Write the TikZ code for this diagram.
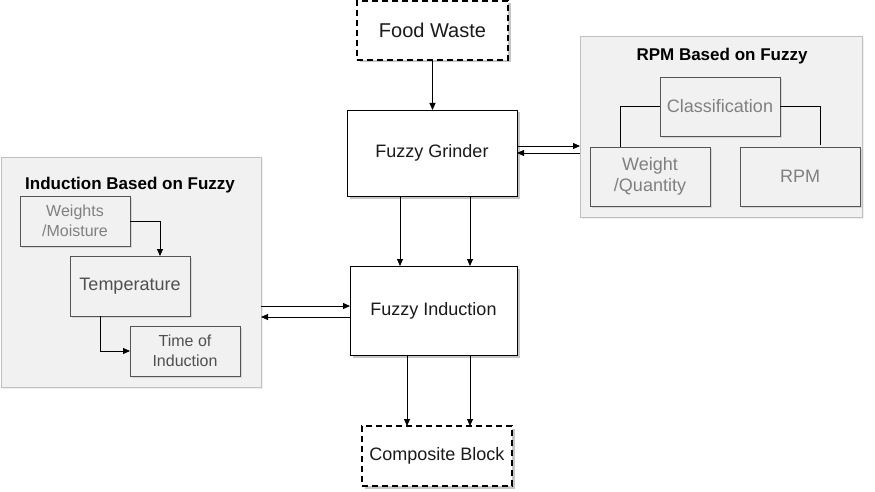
\documentclass[tikz,border=0pt]{standalone}
\usepackage{fontspec}
\setmainfont{Liberation Sans}
\usetikzlibrary{arrows.meta,shadows,calc}
\definecolor{txt}{HTML}{1A1A1A}
\definecolor{subtxt}{HTML}{808080}
\definecolor{temptxt}{HTML}{505050}
\definecolor{contfill}{HTML}{F1F1F1}
\definecolor{contdraw}{HTML}{C0C0C0}
\definecolor{subdraw}{HTML}{555555}
\tikzset{
  shad/.style={drop shadow={shadow xshift=2.5pt,shadow yshift=-2.5pt,fill=black!28,opacity=0.8}},
  mainbox/.style={draw=black,line width=0.9pt,fill=white,inner sep=0pt,outer sep=0pt,
    text=txt,font=\fontsize{18}{21}\selectfont,align=center,shad},
  dashbox/.style={mainbox,dash pattern=on 6pt off 4pt,line width=1.6pt},
  container/.style={draw=contdraw,line width=1pt,fill=contfill,inner sep=0pt,outer sep=0pt,
    drop shadow={shadow xshift=2pt,shadow yshift=-2pt,fill=black!12}},
  subbox/.style={draw=subdraw,line width=0.8pt,fill=contfill,inner sep=0pt,outer sep=0pt,
    text=subtxt,align=center,font=\fontsize{18}{21}\selectfont,
    drop shadow={shadow xshift=2pt,shadow yshift=-2pt,fill=black!25}},
  smalltext/.style={font=\fontsize{16}{20}\selectfont},
  title/.style={font=\bfseries\fontsize{17}{20}\selectfont,text=black,inner sep=0pt},
  arr/.style={-{Triangle[length=7pt,width=6pt]},line width=0.9pt,black},
  conn/.style={line width=0.9pt,black},
}
\begin{document}
\begin{tikzpicture}[x=1pt,y=-1pt]
\useasboundingbox (0,0) rectangle (875,492);
% containers
\node[container,minimum width=282pt,minimum height=180pt] (rpmc) at (721,127) {};
\node[container,minimum width=260pt,minimum height=230pt] (indc) at (131,272) {};
\node[title] (rpmtitle) at (722,56) {RPM Based on Fuzzy};
\node[title] (indtitle) at (130,185) {Induction Based on Fuzzy};
% main boxes
\node[dashbox,minimum width=151pt,minimum height=59pt,font=\fontsize{20}{24}\selectfont] (food) at (432.5,30.5) {Food Waste};
\node[mainbox,minimum width=170pt,minimum height=86pt] (grinder) at (432,153) {\raisebox{-2pt}{Fuzzy Grinder}};
\node[mainbox,minimum width=167pt,minimum height=89pt] (induction) at (433.5,310.5) {\raisebox{-2pt}{Fuzzy Induction}};
\node[dashbox,minimum width=150pt,minimum height=60pt] (comp) at (437,456) {\raisebox{-1pt}{Composite Block}};
% RPM sub boxes
\node[subbox,minimum width=120pt,minimum height=59pt] (class) at (720,106.5) {Classification};
\node[subbox,minimum width=120pt,minimum height=59pt] (wq) at (650,176.5) {Weight\\/Quantity};
\node[subbox,minimum width=120pt,minimum height=59pt] (rpm) at (800,176.5) {RPM};
% induction sub boxes
\node[subbox,smalltext,minimum width=110pt,minimum height=50pt] (wm) at (75,221) {Weights\\/Moisture};
\node[subbox,text=temptxt,minimum width=120pt,minimum height=60pt] (temp) at (130,286) {Temperature};
\node[subbox,smalltext,text=temptxt,minimum width=110pt,minimum height=50pt] (toi) at (185,351) {Time of\\Induction};
% connectors
\draw[arr] (food.south) -- (food.south |- grinder.north);
\draw[arr] ([xshift=-32pt]grinder.south) -- ([xshift=-32pt]grinder.south |- induction.north);
\draw[arr] ([xshift=38pt]grinder.south) -- ([xshift=38pt]grinder.south |- induction.north);
\draw[arr] ([xshift=-26.5pt]induction.south) -- ([xshift=-26.5pt]induction.south |- comp.north);
\draw[arr] ([xshift=36.5pt]induction.south) -- ([xshift=36.5pt]induction.south |- comp.north);
\draw[arr] ([yshift=7pt]grinder.east) -- ([yshift=7pt]grinder.east -| rpmc.west);
\draw[arr] ([yshift=0pt]grinder.east -| rpmc.west) -- ([yshift=0pt]grinder.east);
\draw[arr] ([yshift=4.5pt]induction.west -| indc.east) -- ([yshift=4.5pt]induction.west);
\draw[arr] ([yshift=-6.5pt]induction.west) -- ([yshift=-6.5pt]induction.west -| indc.east);
\draw[conn] (class.west) -| ([xshift=-30pt]wq.north);
\draw[conn] (class.east) -| ([xshift=20pt,yshift=2pt]rpm.north);
\draw[arr] (wm.east) -| ([xshift=30pt]temp.north);
\draw[arr] ([xshift=-30pt]temp.south) |- (toi.west);
\end{tikzpicture}
\end{document}
